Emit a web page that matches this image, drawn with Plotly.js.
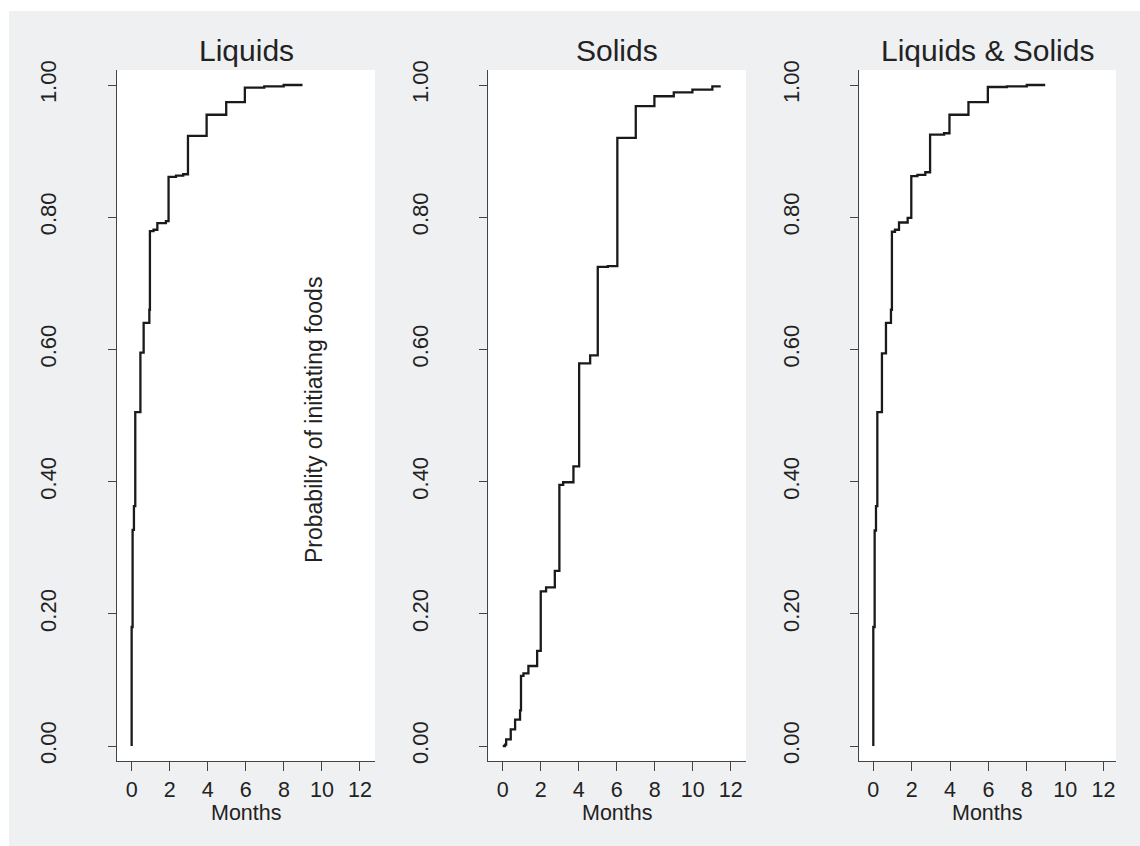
<!DOCTYPE html>
<html>
<head>
<meta charset="utf-8">
<script src="https://cdn.plot.ly/plotly-3.0.1.min.js"></script>
<style>
  html, body { margin: 0; padding: 0; background: #ffffff; width: 1140px; height: 846px; overflow: hidden; }
  #chart { position: absolute; left: 9px; top: 11px; width: 1131px; height: 835px; }
</style>
</head>
<body>
<div id="chart"></div>
<script>
// ---- Data ----
const panelTitles = ["Liquids", "Solids", "Liquids & Solids"];
const xTickVals = [0, 2, 4, 6, 8, 10, 12];
const yTickVals = [0, 0.2, 0.4, 0.6, 0.8, 1.0];
const yTickText = ["0.00", "0.20", "0.40", "0.60", "0.80", "1.00"];

const liquidsMonths = [0, 0, 0.05, 0.12, 0.19, 0.46, 0.63, 0.93, 0.96, 1.15, 1.35, 1.80, 1.94, 2.33, 2.71, 2.96, 3.94, 4.97, 5.95, 6.97, 7.99, 8.98];
const liquidsProb   = [0, 0.18, 0.327, 0.363, 0.505, 0.595, 0.640, 0.660, 0.779, 0.781, 0.791, 0.794, 0.861, 0.863, 0.865, 0.923, 0.955, 0.974, 0.996, 0.998, 1.0, 1.0];

const solidsMonths = [0, 0.12, 0.18, 0.42, 0.65, 0.91, 0.96, 1.09, 1.35, 1.81, 2.00, 2.28, 2.74, 2.98, 3.18, 3.72, 4.02, 4.60, 5.00, 5.53, 6.03, 7.00, 7.98, 9.00, 9.98, 11.03, 11.47];
const solidsProb   = [0, 0.002, 0.010, 0.025, 0.040, 0.054, 0.106, 0.110, 0.121, 0.144, 0.234, 0.240, 0.265, 0.395, 0.399, 0.423, 0.579, 0.591, 0.725, 0.726, 0.920, 0.968, 0.983, 0.989, 0.993, 0.998, 0.998];

const bothMonths = [0, 0, 0.07, 0.14, 0.21, 0.45, 0.66, 0.92, 0.97, 1.13, 1.34, 1.79, 1.98, 2.30, 2.71, 2.96, 3.69, 3.97, 4.96, 5.97, 6.96, 8.00, 8.96];
const bothProb   = [0, 0.18, 0.326, 0.363, 0.505, 0.594, 0.640, 0.660, 0.778, 0.781, 0.792, 0.799, 0.862, 0.864, 0.868, 0.925, 0.927, 0.955, 0.974, 0.997, 0.998, 1.0, 1.0];

// ---- Styling ----
const FONT = "Liberation Sans, Arial, Helvetica, sans-serif";
const TXT = "#222222";
const AX = "#444444";
const lineStyle = { color: "#1a1a1a", width: 2.3, shape: "hv" };

const traces = [
  { x: liquidsMonths, y: liquidsProb, xaxis: "x", yaxis: "y" },
  { x: solidsMonths, y: solidsProb, xaxis: "x2", yaxis: "y2" },
  { x: bothMonths, y: bothProb, xaxis: "x3", yaxis: "y3" }
].map(t => Object.assign(t, { type: "scatter", mode: "lines", line: lineStyle, hoverinfo: "skip", showlegend: false }));

const W = 1131, H = 835;
const xDomains = [[108 / W, 366 / W], [479.3 / W, 737 / W], [850.3 / W, 1107 / W]];
const xRanges = [[-0.77, 12.79], [-0.76, 12.8], [-0.73, 12.65]];
const yDomain = [1 - 750 / H, 1 - 59 / H];
const yRange = [-0.0227, 1.0227];

function xAxis(i) {
  return {
    domain: xDomains[i], range: xRanges[i], anchor: i === 0 ? "y" : "y" + (i + 1),
    tickmode: "array", tickvals: xTickVals, ticktext: xTickVals.map(String),
    ticks: "outside", ticklen: 9, tickwidth: 1, tickcolor: AX,
    showline: true, linecolor: AX, linewidth: 1, mirror: false,
    showgrid: false, zeroline: false, fixedrange: true,
    tickfont: { family: FONT, size: 21.5, color: TXT }, ticklabelstandoff: 0
  };
}
function yAxis(i) {
  return {
    domain: yDomain, range: yRange, anchor: i === 0 ? "x" : "x" + (i + 1),
    tickmode: "array", tickvals: yTickVals, ticktext: yTickText,
    ticks: "outside", ticklen: 8, tickwidth: 1, tickcolor: AX, tickangle: -90,
    showline: true, linecolor: AX, linewidth: 1, mirror: false,
    showgrid: false, zeroline: false, fixedrange: true,
    tickfont: { family: FONT, size: 22, color: TXT }, ticklabelstandoff: 43
  };
}

const titleX = [237 / W, 608 / W, 978.5 / W];
const annotations = [];
panelTitles.forEach((t, i) => {
  annotations.push({ text: t, xref: "paper", yref: "paper", x: titleX[i], y: 1 - 39 / H,
    xanchor: "center", yanchor: "middle", showarrow: false, font: { family: FONT, size: 30, color: TXT } });
  annotations.push({ text: "Months", xref: "paper", yref: "paper", x: titleX[i], y: 1 - 802 / H,
    xanchor: "center", yanchor: "middle", showarrow: false, font: { family: FONT, size: 21.5, color: TXT } });
});
annotations.push({ text: "Probability of initiating foods", xref: "paper", yref: "paper",
  x: 305 / W, y: 1 - 409 / H, xanchor: "center", yanchor: "middle", textangle: -90,
  showarrow: false, font: { family: FONT, size: 23, color: TXT } });

const layout = {
  width: W, height: H,
  margin: { l: 0, r: 0, t: 0, b: 0, pad: 0 },
  paper_bgcolor: "#eff0f2", plot_bgcolor: "#ffffff",
  showlegend: false,
  xaxis: xAxis(0), xaxis2: xAxis(1), xaxis3: xAxis(2),
  yaxis: yAxis(0), yaxis2: yAxis(1), yaxis3: yAxis(2),
  annotations: annotations
};

Plotly.newPlot("chart", traces, layout, { staticPlot: true, displayModeBar: false });
</script>
</body>
</html>
